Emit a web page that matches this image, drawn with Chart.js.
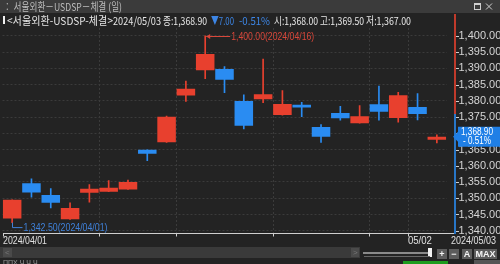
<!DOCTYPE html>
<html><head><meta charset="utf-8">
<script src="https://cdn.jsdelivr.net/npm/chart.js@4.4.1/dist/chart.umd.min.js"></script>
<style>html,body{margin:0;padding:0;background:#232323;overflow:hidden}#wrap{width:500px;height:264px;position:relative}canvas{display:block}</style>
</head><body><div id="wrap"><canvas id="c" width="500" height="264"></canvas></div>
<script>
// ---- data ----
const dates = ['2024/04/01','2024/04/02','2024/04/03','2024/04/04','2024/04/05','2024/04/08','2024/04/09','2024/04/11','2024/04/12','2024/04/15','2024/04/16','2024/04/17','2024/04/18','2024/04/19','2024/04/22','2024/04/23','2024/04/24','2024/04/25','2024/04/26','2024/04/29','2024/04/30','2024/05/02','2024/05/03'];
const opens  = [1343.8,1354.6,1351.0,1343.5,1351.7,1352.0,1352.7,1364.9,1367.2,1381.6,1389.4,1389.8,1379.9,1380.5,1375.6,1378.8,1371.9,1376.2,1373.1,1378.9,1374.7,1378.1,1368.0];
const highs  = [1349.5,1356.0,1353.0,1348.6,1354.2,1355.4,1355.6,1364.9,1375.3,1386.1,1400.0,1390.5,1381.8,1392.8,1383.1,1379.5,1372.7,1378.3,1378.5,1384.5,1382.6,1382.2,1369.5];
const lows   = [1342.5,1350.3,1347.0,1343.5,1348.8,1352.0,1352.7,1361.6,1367.2,1379.8,1386.8,1382.5,1371.3,1379.4,1375.6,1375.1,1367.2,1374.0,1373.1,1374.0,1373.4,1374.1,1367.0];
const closes = [1349.5,1351.8,1348.6,1347.0,1352.9,1353.2,1355.0,1363.7,1375.1,1383.7,1394.4,1386.5,1372.3,1382.0,1379.0,1377.9,1368.9,1374.6,1375.2,1376.6,1381.7,1375.9,1368.9];
const yTicks = [1340,1345,1350,1355,1360,1365,1370,1375,1380,1385,1390,1395,1400];
const seriesName = '서울외환-USDSP-체결';
const titleText = '∶ 서울외환－USDSP－체결 (일)';

const RED = '#e8402e', BLUE = '#2a8cf2';
const colors = closes.map((c,i)=> c >= opens[i] ? RED : BLUE);
const fmt = v => v.toLocaleString('en-US',{minimumFractionDigits:2,maximumFractionDigits:2});
const NUMFONT = "'Liberation Sans Narrow','Arial Narrow','Liberation Sans',sans-serif";
const KFONT = "'Noto Sans CJK KR','Noto Sans',sans-serif";

function txt(ctx, s, x, y, w, color, font, align){
  ctx.font = font; ctx.fillStyle = color; ctx.textAlign = align||'left'; ctx.textBaseline='middle';
  const m = ctx.measureText(s).width;
  if (w && m > w) ctx.fillText(s, x, y, w); else ctx.fillText(s, x, y);
}

const deco = {
  id:'deco',
  beforeDraw(chart){
    const ctx = chart.ctx; ctx.save();
    ctx.fillStyle = '#232323'; ctx.fillRect(0,0,500,264);
    ctx.restore();
  },
  beforeDatasetsDraw(chart){
    const ctx = chart.ctx, xs = chart.scales.x, ys = chart.scales.y, ca = chart.chartArea;
    const half = (xs.getPixelForValue(1)-xs.getPixelForValue(0))/2;
    ctx.save();
    ctx.strokeStyle = '#3b3b3b'; ctx.lineWidth = 1; ctx.setLineDash([2,2]);
    for (let i=1;i<dates.length;i++){
      const d0 = new Date(dates[i-1].replace(/\//g,'-')), d1 = new Date(dates[i].replace(/\//g,'-'));
      if (d1.getDay() < d0.getDay() || d1.getMonth() !== d0.getMonth()){
        const x = Math.round(xs.getPixelForValue(i)-half)+0.5;
        ctx.beginPath(); ctx.moveTo(x, ca.top); ctx.lineTo(x, ca.bottom); ctx.stroke();
      }
    }
    ctx.restore();
  },
  afterDraw(chart){
    const ctx = chart.ctx, xs = chart.scales.x, ys = chart.scales.y, ca = chart.chartArea;
    const half = (xs.getPixelForValue(1)-xs.getPixelForValue(0))/2;
    const n = dates.length, last = n-1;
    ctx.save();
    // title bar
    ctx.fillStyle = '#3b3b3b'; ctx.fillRect(0,0,500,13);
    txt(ctx, titleText, 3, 7, 119, '#bdbdbd', '11px '+KFONT);
    ctx.strokeStyle = '#cfcfcf'; ctx.lineWidth = 1;
    ctx.strokeRect(474.5,3.5,6,6); ctx.beginPath(); ctx.moveTo(474.5,4.5); ctx.lineTo(480.5,4.5); ctx.stroke();
    ctx.beginPath(); ctx.moveTo(486,3.5); ctx.lineTo(492,9.5); ctx.moveTo(492,3.5); ctx.lineTo(486,9.5); ctx.stroke();
    // info line
    ctx.fillStyle = '#f0f0f0'; ctx.fillRect(3,16,2,8);
    const chg = closes[last]-closes[last-1], pct = chg/closes[last-1]*100;
    txt(ctx, '<'+seriesName+'>', 7, 21, 106, '#e6e6e6', '11px '+KFONT);
    txt(ctx, dates[last], 113, 21, 48, '#e6e6e6', '11px '+KFONT);
    txt(ctx, '종:'+fmt(closes[last]), 163, 21, 44, '#e6e6e6', '11px '+KFONT);
    txt(ctx, (chg<0?'▼':'▲')+Math.abs(chg).toFixed(2), 211, 21, 23, '#3d86e6', '11px '+KFONT);
    txt(ctx, (pct<0?'-':'')+Math.abs(pct).toFixed(2)+'%', 239, 21, 31, '#3d86e6', '11px '+KFONT);
    txt(ctx, '시:'+fmt(opens[last]), 274, 21, 44, '#e6e6e6', '11px '+KFONT);
    txt(ctx, '고:'+fmt(highs[last]), 320, 21, 44, '#e6e6e6', '11px '+KFONT);
    txt(ctx, '저:'+fmt(lows[last]), 366, 21, 45, '#e6e6e6', '11px '+KFONT);

    // right axis line (red above previous close, blue below)
    const axX = ca.right + 8.5;
    const yPrev = ys.getPixelForValue(closes[last-1]);
    ctx.lineWidth = 1.6;
    ctx.strokeStyle = RED; ctx.beginPath(); ctx.moveTo(axX, 14); ctx.lineTo(axX, yPrev); ctx.stroke();
    ctx.strokeStyle = BLUE; ctx.beginPath(); ctx.moveTo(axX, yPrev); ctx.lineTo(axX, ca.bottom+1); ctx.stroke();
    ctx.lineWidth = 1; ctx.strokeStyle = '#cfcfcf';
    yTicks.forEach(v=>{ const y = Math.round(ys.getPixelForValue(v))+0.5; ctx.beginPath(); ctx.moveTo(axX+1,y); ctx.lineTo(axX+4,y); ctx.stroke(); });

    // bottom axis
    ctx.strokeStyle = '#cfcfcf'; ctx.lineWidth = 1;
    const by = Math.round(ca.bottom)+0.5;
    ctx.beginPath(); ctx.moveTo(3, by); ctx.lineTo(axX-1, by); ctx.stroke();
    const tickIdx = [0];
    let monthIdx = -1;
    for (let i=1;i<n;i++){
      const d0 = new Date(dates[i-1].replace(/\//g,'-')), d1 = new Date(dates[i].replace(/\//g,'-'));
      if (d1.getDay() < d0.getDay() || d1.getMonth() !== d0.getMonth()) tickIdx.push(i);
      if (d1.getMonth() !== d0.getMonth()) monthIdx = i;
    }
    tickIdx.forEach(i=>{ const x = Math.round(xs.getPixelForValue(i)-half)+0.5; ctx.beginPath(); ctx.moveTo(x,by); ctx.lineTo(x,by+3); ctx.stroke(); });
    txt(ctx, dates[0], 3, 241, 44, '#e0e0e0', '11px '+NUMFONT);
    if (monthIdx>0) txt(ctx, dates[monthIdx].slice(5), xs.getPixelForValue(monthIdx)-half, 241, 24, '#e0e0e0', '11px '+NUMFONT);
    txt(ctx, dates[last], 496, 241, 45, '#e0e0e0', '11px '+NUMFONT, 'right');

    // high annotation
    let hi = 0, lo = 0;
    highs.forEach((v,i)=>{ if (v>highs[hi]) hi=i; });
    lows.forEach((v,i)=>{ if (v<lows[lo]) lo=i; });
    const hx = xs.getPixelForValue(hi), hy = Math.round(ys.getPixelForValue(highs[hi]))+0.5;
    ctx.strokeStyle = '#d8473a'; ctx.fillStyle = '#d8473a';
    ctx.beginPath(); ctx.moveTo(hx+1, hy); ctx.lineTo(hx+25, hy); ctx.stroke();
    ctx.beginPath(); ctx.moveTo(hx+1, hy); ctx.lineTo(hx+5, hy-2.5); ctx.lineTo(hx+5, hy+2.5); ctx.closePath(); ctx.fill();
    txt(ctx, fmt(highs[hi])+'('+dates[hi]+')', hx+26, hy, 83, '#d8473a', '11px '+NUMFONT);
    // low annotation
    const lx = Math.round(xs.getPixelForValue(lo))+0.5, ly = ys.getPixelForValue(lows[lo]);
    ctx.strokeStyle = '#3f80d8';
    ctx.beginPath(); ctx.moveTo(lx, ly); ctx.lineTo(lx, ly+5); ctx.lineTo(lx+10, ly+5); ctx.stroke();
    txt(ctx, fmt(lows[lo])+'('+dates[lo]+')', lx+11, ly+5, 84, '#3f80d8', '11px '+NUMFONT);

    // current price tag
    const py = ys.getPixelForValue(closes[last]);
    ctx.fillStyle = '#1f7fe6';
    ctx.beginPath(); ctx.moveTo(axX-2, py); ctx.lineTo(axX+3, py-5); ctx.lineTo(axX+3, py-10); ctx.lineTo(500, py-10);
    ctx.lineTo(500, py+10); ctx.lineTo(axX+3, py+10); ctx.lineTo(axX+3, py+5); ctx.closePath(); ctx.fill();
    txt(ctx, fmt(closes[last]), 461, py-4.5, 32, '#ffffff', '11px '+NUMFONT);
    txt(ctx, '- '+Math.abs(pct).toFixed(2)+'%', 463, py+4.5, 28, '#ffffff', '11px '+NUMFONT);

    // bottom scroll bar
    ctx.fillStyle = '#3a3a3a'; ctx.fillRect(0,247,360,11);
    ctx.fillStyle = '#4a4a4a'; ctx.fillRect(3,248,9,9); ctx.fillRect(351,248,8,9);
    txt(ctx, '<', 5, 252.5, 6, '#777', '8px '+NUMFONT);
    txt(ctx, '>', 353, 252.5, 6, '#777', '8px '+NUMFONT);
    ctx.fillStyle = '#8a8a8a'; ctx.fillRect(363,252,67,2);
    ctx.fillStyle = '#f2f2f2'; ctx.fillRect(428,248,4,9);
    ctx.fillStyle = '#666'; ctx.fillRect(364,256,66,1);
    const btn = (x,w,s)=>{ ctx.fillStyle='#5c5c5c'; ctx.fillRect(x,249,w,10); txt(ctx, s, x+w/2, 254.5, w-2, '#f5f5f5', 'bold 9px '+NUMFONT, 'center'); };
    btn(437,10,'+'); btn(449,10,'−'); btn(462,10,'A'); btn(474,23,'MAX');
    ctx.fillStyle = '#1e9c1e'; ctx.fillRect(403,261,45,3);
    ctx.fillStyle = '#555'; ctx.fillRect(474,260,26,4);
    txt(ctx, 'ППХ Ч Ч Ч', 3, 263, 40, '#9a9a9a', '7px '+NUMFONT);
    ctx.restore();
  }
};

new Chart(document.getElementById('c'), {
  type:'bar',
  data:{
    labels: dates,
    datasets:[
      { label:'body', data: dates.map((d,i)=>[opens[i], closes[i]]), backgroundColor: colors, borderWidth:0,
        barPercentage:1, categoryPercentage:0.96, grouped:false, order:1 },
      { label:'wick', data: dates.map((d,i)=>[lows[i], highs[i]]), backgroundColor: colors, borderWidth:0,
        barThickness:1, grouped:false, order:2 }
    ]
  },
  options:{
    responsive:false, animation:false, devicePixelRatio:1,
    layout:{ padding:{ left:2.5, right:0, top:28, bottom:31 } },
    plugins:{ legend:{display:false}, tooltip:{enabled:false} },
    scales:{
      x:{ type:'category', display:false, offset:true, grid:{display:false} },
      y:{ position:'right', min:1339.3, max:1402.4,
          afterBuildTicks: s => { s.ticks = yTicks.map(v=>({value:v})); },
          afterFit: s => { s.width = 53.5; },
          ticks:{ color:'#d4d4d4', padding:12, font:{ family:NUMFONT, size:11 }, callback: v => fmt(v) },
          grid:{ color:'#3b3b3b', drawTicks:false },
          border:{ display:false, dash:[2,2] } }
    }
  },
  plugins:[deco]
});
</script>
</body></html>
